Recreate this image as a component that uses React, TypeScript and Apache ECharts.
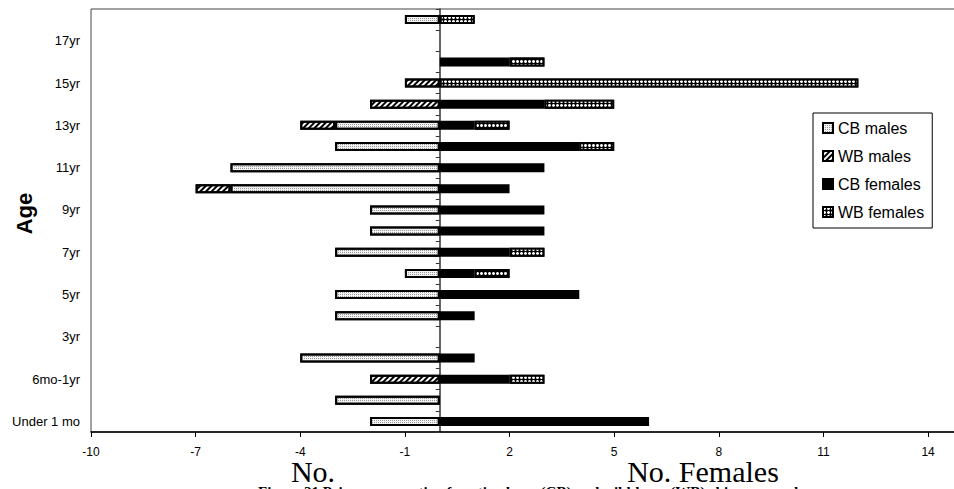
import React, { useEffect, useRef } from "react";
import * as echarts from "echarts";

const categories = [
  "Under 1 mo", "1-6mo", "6mo-1yr", "2yr", "3yr", "4yr", "5yr", "6yr", "7yr", "8yr",
  "9yr", "10yr", "11yr", "12yr", "13yr", "14yr", "15yr", "16yr", "17yr", "18yr",
];
const cbMales = [-2, -3, 0, -4, 0, -3, -3, -1, -3, -2, -2, -6, -6, -3, -3, 0, 0, 0, 0, -1];
const wbMales = [0, 0, -2, 0, 0, 0, 0, 0, 0, 0, 0, -1, 0, 0, -1, -2, -1, 0, 0, 0];
const cbFemales = [6, 0, 2, 1, 0, 1, 4, 1, 2, 3, 3, 2, 3, 4, 1, 3, 0, 2, 0, 0];
const wbFemales = [0, 0, 1, 0, 0, 0, 0, 1, 1, 0, 0, 0, 0, 1, 1, 2, 12, 1, 0, 1];
const xMin = -10;
const xMax = 14.8;
const xStep = 3;
const caption = "Figure 21 Primary sex ratio of captive-born (CB) and wild-born (WB) chimpanzees by age";

const sans = '"Liberation Sans", Arial, sans-serif';
const serif = '"Liberation Serif", "Times New Roman", serif';

const clean = (arr: number[]) => arr.map((v) => (v === 0 ? null : v));

export default function App() {
  const ref = useRef<HTMLDivElement>(null);
  useEffect(() => {
    if (!ref.current) return;
    const chart = echarts.init(ref.current, undefined, { renderer: "svg" });
    const barBase = {
      type: "bar",
      stack: "age",
      barWidth: 9,
      yAxisIndex: 0,
    };
    chart.setOption({
      animation: false,
      textStyle: { fontFamily: sans },
      grid: {
        left: 91,
        top: 9,
        right: -2,
        bottom: 57,
        containLabel: false,
        outerBoundsMode: "none",
        show: true,
        borderColor: "#444",
        borderWidth: 1,
        backgroundColor: "transparent",
      },
      legend: {
        orient: "vertical",
        left: 813,
        top: 113,
        borderColor: "#000",
        borderWidth: 1,
        padding: [7, 8, 8, 9],
        itemGap: 12,
        itemWidth: 10,
        itemHeight: 10,
        icon: "rect",
        textStyle: { fontSize: 16, color: "#000", fontFamily: sans },
        data: ["CB males", "WB males", "CB females", "WB females"],
      },
      xAxis: {
        type: "value",
        min: xMin,
        max: xMax,
        interval: xStep,
        splitLine: { show: false },
        axisLine: { show: true, lineStyle: { color: "#000", width: 1.5 } },
        axisTick: { show: true, length: 5, lineStyle: { color: "#000" } },
        axisLabel: {
          color: "#000",
          fontSize: 12,
          margin: 14,
          showMaxLabel: false,
          fontFamily: sans,
        },
      },
      yAxis: [
        {
          type: "category",
          data: categories,
          position: "left",
          axisLine: { show: false, onZero: false },
          axisTick: { show: false },
          axisLabel: { interval: 1, color: "#000", fontSize: 13, margin: 11, fontFamily: sans },
          name: "Age",
          nameLocation: "middle",
          nameGap: 56,
          nameMoveOverlap: false,
          nameTextStyle: {
            fontSize: 22,
            fontWeight: "bold",
            color: "#000",
            fontFamily: sans,
            padding: [0, 0, 0, 14],
          },
        },
        {
          type: "category",
          data: categories,
          position: "left",
          axisLine: { show: true, onZero: true, lineStyle: { color: "#333", width: 1.5 } },
          axisTick: { show: true, length: 4, lineStyle: { color: "#333" } },
          axisLabel: { show: false },
          splitLine: { show: false },
        },
      ],
      series: [
        {
          ...barBase,
          name: "CB males",
          data: clean(cbMales),
          itemStyle: {
            color: "#f2f2f2",
            borderColor: "#000",
            borderWidth: 2,
            decal: {
              symbol: "rect",
              symbolSize: 1,
              dashArrayX: [1, 1],
              dashArrayY: [1, 1],
              color: "#9a9a9a",
            },
          },
        },
        {
          ...barBase,
          name: "WB males",
          data: clean(wbMales),
          itemStyle: {
            color: "#ffffff",
            borderColor: "#000",
            borderWidth: 2,
            decal: {
              symbol: "rect",
              symbolSize: 1,
              rotation: -Math.PI / 4,
              dashArrayX: [1, 0],
              dashArrayY: [2, 2],
              color: "#000",
            },
          },
        },
        {
          ...barBase,
          name: "CB females",
          data: clean(cbFemales),
          itemStyle: { color: "#000", borderColor: "#000", borderWidth: 2 },
        },
        {
          ...barBase,
          name: "WB females",
          data: clean(wbFemales),
          itemStyle: {
            color: "#000",
            borderColor: "#000",
            borderWidth: 2,
            decal: {
              symbol: "circle",
              symbolSize: 1,
              dashArrayX: [3, 1],
              dashArrayY: [3, 1],
              color: "#fff",
            },
          },
        },
      ],
      graphic: [
        {
          type: "text",
          x: 313,
          y: 486,
          style: {
            text: "No.",
            font: `30px ${serif}`,
            fill: "#000",
            textAlign: "center",
            textVerticalAlign: "bottom",
          },
        },
        {
          type: "text",
          x: 703,
          y: 486,
          style: {
            text: "No. Females",
            font: `30px ${serif}`,
            fill: "#000",
            textAlign: "center",
            textVerticalAlign: "bottom",
          },
        },
        {
          type: "text",
          x: 258,
          y: 484,
          style: {
            text: caption,
            font: `bold 15px ${serif}`,
            fill: "#000",
            textAlign: "left",
            textVerticalAlign: "top",
          },
        },
      ],
    });
    return () => chart.dispose();
  }, []);
  return (
    <div
      ref={ref}
      style={{ position: "absolute", left: 0, top: 0, width: 954, height: 489, background: "#fff" }}
    />
  );
}
